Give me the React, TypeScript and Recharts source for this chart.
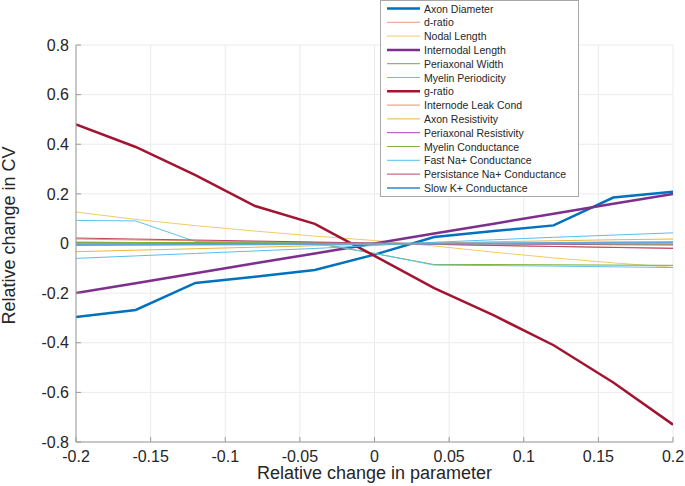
import React from 'react';
import { LineChart, Line, XAxis, YAxis, CartesianGrid } from 'recharts';

// ---- data ----
const xValues = [-0.2, -0.16, -0.12, -0.08, -0.04, 0, 0.04, 0.08, 0.12, 0.16, 0.2];

const axonDiameter = [-0.296, -0.268, -0.159, -0.134, -0.107, -0.045, 0.026, 0.05, 0.073, 0.185, 0.209];
const dRatio = [0.018, 0.014, 0.011, 0.007, 0.004, 0, -0.004, -0.008, -0.012, -0.015, -0.018];
const nodalLength = [0.127, 0.097, 0.072, 0.05, 0.03, 0.012, -0.01, -0.035, -0.058, -0.078, -0.096];
const internodalLength = [-0.2, -0.16, -0.12, -0.08, -0.04, 0, 0.04, 0.08, 0.12, 0.16, 0.2];
const periaxonalWidth = [0.005, 0.004, 0.003, 0.002, 0.001, -0.04, -0.085, -0.085, -0.086, -0.087, -0.088];
const myelinPeriodicity = [0.093, 0.091, 0.008, 0.006, 0.004, -0.04, -0.087, -0.089, -0.091, -0.094, -0.097];
const gRatio = [0.48, 0.389, 0.276, 0.151, 0.079, -0.05, -0.18, -0.29, -0.41, -0.56, -0.73];
const internodeLeakCond = [0.003, 0.002, 0.002, 0.001, 0.001, 0, -0.001, -0.001, -0.002, -0.002, -0.003];
const axonResistivity = [-0.033, -0.027, -0.021, -0.015, -0.009, -0.003, 0.002, 0.007, 0.011, 0.015, 0.018];
const periaxonalResistivity = [0.002, 0.002, 0.001, 0.001, 0, 0, -0.001, -0.002, -0.003, -0.005, -0.006];
const myelinConductance = [0.005, 0.004, 0.004, 0.003, 0.002, 0.001, 0, -0.001, -0.001, -0.002, -0.002];
const fastNaConductance = [-0.06, -0.05, -0.04, -0.03, -0.02, -0.008, 0.005, 0.015, 0.025, 0.034, 0.043];
const persistanceNaConductance = [0.022, 0.018, 0.014, 0.01, 0.006, 0.002, -0.003, -0.008, -0.012, -0.016, -0.02];
const slowKConductance = [-0.006, -0.005, -0.004, -0.003, -0.002, -0.001, 0, 0.001, 0.002, 0.004, 0.005];

const xTicks = [-0.2, -0.15, -0.1, -0.05, 0, 0.05, 0.1, 0.15, 0.2];
const yTicks = [-0.8, -0.6, -0.4, -0.2, 0, 0.2, 0.4, 0.6, 0.8];

const xLabel = 'Relative change in parameter';
const yLabel = 'Relative change in CV';

const series = [
  { key: 'axonDiameter', name: 'Axon Diameter', values: axonDiameter },
  { key: 'dRatio', name: 'd-ratio', values: dRatio },
  { key: 'nodalLength', name: 'Nodal Length', values: nodalLength },
  { key: 'internodalLength', name: 'Internodal Length', values: internodalLength },
  { key: 'periaxonalWidth', name: 'Periaxonal Width', values: periaxonalWidth },
  { key: 'myelinPeriodicity', name: 'Myelin Periodicity', values: myelinPeriodicity },
  { key: 'gRatio', name: 'g-ratio', values: gRatio },
  { key: 'internodeLeakCond', name: 'Internode Leak Cond', values: internodeLeakCond },
  { key: 'axonResistivity', name: 'Axon Resistivity', values: axonResistivity },
  { key: 'periaxonalResistivity', name: 'Periaxonal Resistivity', values: periaxonalResistivity },
  { key: 'myelinConductance', name: 'Myelin Conductance', values: myelinConductance },
  { key: 'fastNaConductance', name: 'Fast Na+ Conductance', values: fastNaConductance },
  { key: 'persistanceNaConductance', name: 'Persistance Na+ Conductance', values: persistanceNaConductance },
  { key: 'slowKConductance', name: 'Slow K+ Conductance', values: slowKConductance },
];

// ---- styles ----
const lineStyles: Record<string, { color: string; width: number }> = {
  axonDiameter: { color: '#0072BD', width: 2.5 },
  dRatio: { color: '#EC9A7E', width: 1 },
  nodalLength: { color: '#F4C968', width: 1 },
  internodalLength: { color: '#7E2F8E', width: 2.5 },
  periaxonalWidth: { color: '#77AC30', width: 1 },
  myelinPeriodicity: { color: '#5CC4F0', width: 1 },
  gRatio: { color: '#A2142F', width: 2.5 },
  internodeLeakCond: { color: '#E98F6C', width: 1 },
  axonResistivity: { color: '#EDB43A', width: 1 },
  periaxonalResistivity: { color: '#A545B8', width: 1 },
  myelinConductance: { color: '#7DB43A', width: 1 },
  fastNaConductance: { color: '#56C0EE', width: 1 },
  persistanceNaConductance: { color: '#BE4563', width: 1 },
  slowKConductance: { color: '#5FA6DA', width: 2 },
};

const FONT = '"Liberation Sans", Arial, Helvetica, sans-serif';
const TEXT = '#262626';
const AXIS = '#9a9a9a';

const data = xValues.map((x, i) => {
  const row: Record<string, number> = { x };
  series.forEach((s) => {
    row[s.key] = s.values[i];
  });
  return row;
});

const fmt = (v: number) => String(v);

const Legend = () => {
  const itemH = 13.8;
  return (
    <svg
      width={200}
      height={198}
      style={{ position: 'absolute', left: 380, top: 0, fontFamily: FONT }}
    >
      <rect x={0.5} y={0.5} width={198} height={196} fill="#ffffff" stroke="#a8a8a8" strokeWidth={1} />
      {series.map((s, i) => {
        const y = 8.5 + i * itemH;
        const st = lineStyles[s.key];
        return (
          <g key={s.key}>
            <line x1={7} x2={40} y1={y} y2={y} stroke={st.color} strokeWidth={st.width} />
            <text x={44} y={y} dominantBaseline="central" fontSize={10.5} fill={TEXT}>
              {s.name}
            </text>
          </g>
        );
      })}
    </svg>
  );
};

export default function App() {
  return (
    <div style={{ position: 'absolute', left: 0, top: 0, width: 685, height: 486, background: '#fff' }}>
      <LineChart
        width={685}
        height={486}
        data={data}
        margin={{ top: 45, right: 12, bottom: 0, left: 0 }}
        style={{ fontFamily: FONT }}
      >
        <CartesianGrid stroke="#ebebeb" strokeWidth={1} />
        <XAxis
          dataKey="x"
          type="number"
          domain={[-0.2, 0.2]}
          ticks={xTicks}
          allowDataOverflow
          height={44}
          tickSize={-5}
          tickMargin={14}
          tickFormatter={fmt}
          stroke={AXIS}
          tick={{ fill: TEXT, fontSize: 16, fontFamily: FONT }}
          tickLine={{ stroke: AXIS }}
          axisLine={{ stroke: AXIS }}
          label={{
            content: (props: any) => {
              const vb = props.viewBox || {};
              return (
                <text
                  x={vb.x + vb.width / 2}
                  y={vb.y + 37}
                  textAnchor="middle"
                  fontSize={18}
                  fill={TEXT}
                  fontFamily={FONT}
                >
                  {xLabel}
                </text>
              );
            },
          }}
        />
        <XAxis
          xAxisId="top"
          orientation="top"
          dataKey="x"
          type="number"
          domain={[-0.2, 0.2]}
          ticks={xTicks}
          allowDataOverflow
          height={0}
          tickSize={-5}
          tickFormatter={() => ''}
          stroke={AXIS}
          tickLine={{ stroke: AXIS }}
          axisLine={{ stroke: AXIS }}
        />
        <YAxis
          type="number"
          domain={[-0.8, 0.8]}
          ticks={yTicks}
          allowDataOverflow
          width={76}
          tickSize={-5}
          tickMargin={12}
          tickFormatter={fmt}
          stroke={AXIS}
          tick={{ fill: TEXT, fontSize: 16, fontFamily: FONT }}
          tickLine={{ stroke: AXIS }}
          axisLine={{ stroke: AXIS }}
          label={{
            content: (props: any) => {
              const vb = props.viewBox || {};
              const cx = vb.x + 15;
              const cy = vb.y + vb.height / 2 - 8;
              return (
                <text
                  x={cx}
                  y={cy}
                  transform={`rotate(-90 ${cx} ${cy})`}
                  textAnchor="middle"
                  fontSize={18}
                  fill={TEXT}
                  fontFamily={FONT}
                >
                  {yLabel}
                </text>
              );
            },
          }}
        />
        <YAxis
          yAxisId="right"
          orientation="right"
          type="number"
          domain={[-0.8, 0.8]}
          ticks={yTicks}
          allowDataOverflow
          width={0}
          tickSize={-5}
          tickFormatter={() => ''}
          stroke={AXIS}
          tickLine={{ stroke: AXIS }}
          axisLine={{ stroke: AXIS }}
        />
        {series.map((s) => (
          <Line
            key={s.key}
            dataKey={s.key}
            name={s.name}
            type="linear"
            stroke={lineStyles[s.key].color}
            strokeWidth={lineStyles[s.key].width}
            dot={false}
            activeDot={false}
            isAnimationActive={false}
          />
        ))}
      </LineChart>
      <Legend />
    </div>
  );
}
